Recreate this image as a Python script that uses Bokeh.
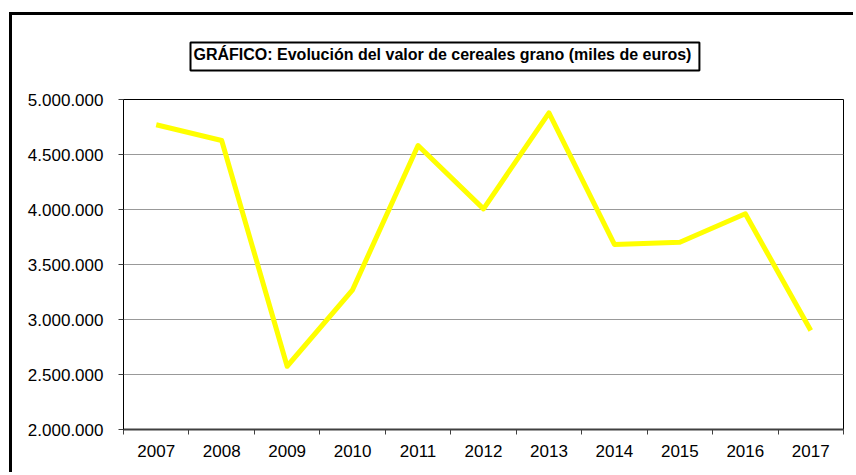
from bokeh.plotting import figure
from bokeh.models import Range1d, FixedTicker, CustomJSTickFormatter, Title
from bokeh.embed import file_html
from bokeh.resources import INLINE

# ---- data ----
years = [2007, 2008, 2009, 2010, 2011, 2012, 2013, 2014, 2015, 2016, 2017]
values = [4770000, 4627000, 2575000, 3270000, 4582000, 4006000, 4879000,
          3682000, 3703000, 3961000, 2900000]
y_ticks = [2000000, 2500000, 3000000, 3500000, 4000000, 4500000, 5000000]
title_text = "GRÁFICO: Evolución del valor de cereales grano (miles de euros)"

FONT = "Liberation Sans"
OFF_X, OFF_Y = 12, 15          # page position of the canvas (inside the outer frame)
W, H = 856 - OFF_X, 475 - OFF_Y
ML, MT = 123 - OFF_X, 99 - OFF_Y
MR = W - (843 - OFF_X)
MB = H - (429 - OFF_Y)

y_min, y_max = y_ticks[0], y_ticks[-1]
x_min, x_max = years[0] - 0.5, years[-1] + 0.5

p = figure(width=W, height=H, output_backend="svg", toolbar_location=None, title=None,
           x_range=Range1d(x_min, x_max), y_range=Range1d(y_min, y_max),
           min_border_left=ML, min_border_right=MR, min_border_top=MT, min_border_bottom=MB,
           background_fill_color="white", border_fill_color="white")

# outer chart frame (left/top visible; right/bottom fall outside the window)
p.styles = {"margin-left": "9px", "margin-top": "12px", "vertical-align": "top",
            "border-left": "3px solid black", "border-top": "3px solid black"}

p.outline_line_color = "black"
p.outline_line_width = 1

# x axis: labels at year centres, ticks at category boundaries
p.xaxis.ticker = FixedTicker(ticks=years, minor_ticks=[y - 0.5 for y in years] + [years[-1] + 0.5])
p.xaxis.formatter = CustomJSTickFormatter(code="return tick.toFixed(0);")
p.xaxis.major_tick_in = 0
p.xaxis.major_tick_out = 0
p.xaxis.minor_tick_in = 0
p.xaxis.minor_tick_out = 5
p.xaxis.minor_tick_line_color = "#404040"
p.xaxis.axis_line_color = "#404040"
p.xaxis.axis_line_width = 2
p.xaxis.major_label_text_font = FONT
p.xaxis.major_label_text_font_size = "17px"
p.xaxis.major_label_text_color = "black"
p.xaxis.major_label_standoff = 10

# y axis
p.yaxis.ticker = FixedTicker(ticks=y_ticks, minor_ticks=[])
p.yaxis.formatter = CustomJSTickFormatter(
    code="return Math.round(tick).toString().replace(/\\B(?=(\\d{3})+(?!\\d))/g, '.');")
p.yaxis.major_tick_in = 0
p.yaxis.major_tick_out = 5
p.yaxis.minor_tick_out = 0
p.yaxis.major_tick_line_color = "#404040"
p.yaxis.axis_line_color = "black"
p.yaxis.major_label_text_font = FONT
p.yaxis.major_label_text_font_size = "17px"
p.yaxis.major_label_text_color = "black"
p.yaxis.major_label_standoff = 15

p.xgrid.visible = False
p.ygrid.ticker = FixedTicker(ticks=y_ticks, minor_ticks=[])
p.ygrid.grid_line_color = "#999999"
p.ygrid.grid_line_width = 1

p.line(years, values, line_color="#FFFF00", line_width=5, line_join="round")

# boxed title
PAD = (3, 8, 3, 8)
title = Title(text=title_text, align="left", vertical_align="top",
              offset=(187 - 123) + PAD[3] - 5,
              text_font=FONT, text_font_size="16px", text_font_style="bold",
              text_color="black", border_line_color="black", border_line_width=2,
              background_fill_color="white", padding=PAD, standoff=54)
p.add_layout(title, "above")

open("out.html", "w").write(file_html(p, INLINE))
